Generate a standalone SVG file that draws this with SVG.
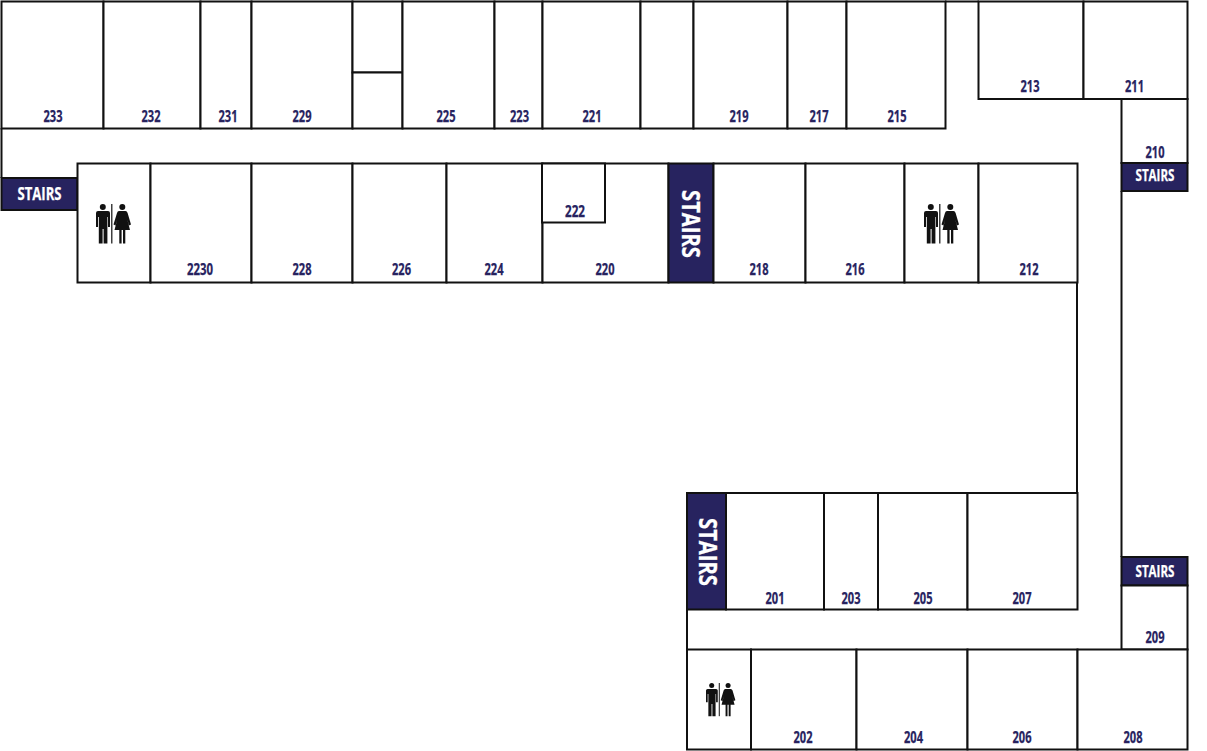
<svg xmlns="http://www.w3.org/2000/svg" width="1207" height="751" viewBox="0 0 1207 751">
<style>
.r{fill:#fff;stroke:#111;stroke-width:2}
.s{fill:#27235f;stroke:#111;stroke-width:2}
.w{fill:none;stroke:#111;stroke-width:2}
.l{font-family:"Open Sans","Liberation Sans",sans-serif;font-weight:700;font-size:16px;fill:#27235f;stroke:#27235f;stroke-width:.25;text-anchor:middle}
.t{font-family:"Open Sans","Liberation Sans",sans-serif;font-weight:700;fill:#fff;stroke:#fff;stroke-width:.25;text-anchor:middle}
</style>
<defs>
<g id="wc" fill="#111">
<circle cx="6.800" cy="3.100" r="3"/>
<path d="M2 7H12Q14 7 14 9V23H12V13H11.400V39.500H7.600V25H6.600V39.500H2.800V13H2V23H0V9Q0 7 2 7Z"/>
<rect x="15.200" y="0" width="1.200" height="39.500"/>
<circle cx="26.300" cy="3.100" r="3"/>
<path d="M23 7H29.500Q31 7 31.600 9L35 20.500L33 21.500L31.300 15.500L34 26H29.300V39.500H27V26H25.600V39.500H23.300V26H18.500L21.200 15.500L19.500 21.500L17.500 20.500L21 9Q21.500 7 23 7Z"/>
</g>
</defs>
<rect width="1207" height="751" fill="#fff"/>
<g id="connectors">
<path class="w" d="M1.500 128V178"/>
<path class="w" d="M945 1.500H979"/>
<path class="w" d="M1121.500 191V557"/>
<path class="w" d="M1077 282V493"/>
<path class="w" d="M687 609V649"/>
</g>
<g id="r233"><rect class="r" x="1.500" y="1.500" width="102" height="127"/><text class="l" x="53" y="122" textLength="19" lengthAdjust="spacingAndGlyphs">233</text></g>
<g id="r232"><rect class="r" x="103.500" y="1.500" width="97" height="127"/><text class="l" x="151" y="122" textLength="19" lengthAdjust="spacingAndGlyphs">232</text></g>
<g id="r231"><rect class="r" x="200.500" y="1.500" width="51" height="127"/><text class="l" x="228" y="122" textLength="19" lengthAdjust="spacingAndGlyphs">231</text></g>
<g id="r229"><rect class="r" x="251.500" y="1.500" width="101" height="127"/><text class="l" x="302" y="122" textLength="19" lengthAdjust="spacingAndGlyphs">229</text></g>
<g id="r-unnamed-a"><rect class="r" x="352.500" y="1.500" width="50" height="71"/></g>
<g id="r-unnamed-b"><rect class="r" x="352.500" y="72.500" width="50" height="56"/></g>
<g id="r225"><rect class="r" x="402.500" y="1.500" width="92" height="127"/><text class="l" x="446" y="122" textLength="19" lengthAdjust="spacingAndGlyphs">225</text></g>
<g id="r223"><rect class="r" x="494.500" y="1.500" width="48" height="127"/><text class="l" x="519.500" y="122" textLength="19" lengthAdjust="spacingAndGlyphs">223</text></g>
<g id="r221"><rect class="r" x="542.500" y="1.500" width="98" height="127"/><text class="l" x="592" y="122" textLength="19" lengthAdjust="spacingAndGlyphs">221</text></g>
<g id="r-unnamed-c"><rect class="r" x="640.500" y="1.500" width="53" height="127"/></g>
<g id="r219"><rect class="r" x="693.500" y="1.500" width="94" height="127"/><text class="l" x="739" y="122" textLength="19" lengthAdjust="spacingAndGlyphs">219</text></g>
<g id="r217"><rect class="r" x="787.500" y="1.500" width="59" height="127"/><text class="l" x="819" y="122" textLength="19" lengthAdjust="spacingAndGlyphs">217</text></g>
<g id="r215"><rect class="r" x="846.500" y="1.500" width="99" height="127"/><text class="l" x="897" y="122" textLength="19" lengthAdjust="spacingAndGlyphs">215</text></g>
<g id="r213"><rect class="r" x="978.500" y="1.500" width="105" height="97.500"/><text class="l" x="1030" y="92" textLength="19" lengthAdjust="spacingAndGlyphs">213</text></g>
<g id="r211"><rect class="r" x="1083.500" y="1.500" width="104" height="97.500"/><text class="l" x="1134.500" y="92" textLength="19" lengthAdjust="spacingAndGlyphs">211</text></g>
<g id="r210"><rect class="r" x="1121.500" y="99" width="66" height="64"/><text class="l" x="1155" y="158" textLength="19" lengthAdjust="spacingAndGlyphs">210</text></g>
<g id="stairs-ne"><rect class="s" x="1121.500" y="163" width="66" height="28"/><text class="t" x="1155" y="181" font-size="15.500" textLength="39" lengthAdjust="spacingAndGlyphs">STAIRS</text></g>
<g id="stairs-w"><rect class="s" x="1.500" y="178" width="76" height="32"/><text class="t" x="39.500" y="199.500" font-size="18" textLength="44" lengthAdjust="spacingAndGlyphs">STAIRS</text></g>
<g id="wc-north-w"><rect class="r" x="77.500" y="163.500" width="73" height="119"/><use href="#wc" x="96" y="204"/></g>
<g id="r2230"><rect class="r" x="150.500" y="163.500" width="101" height="119"/><text class="l" x="200" y="275" textLength="26" lengthAdjust="spacingAndGlyphs">2230</text></g>
<g id="r228"><rect class="r" x="251.500" y="163.500" width="101" height="119"/><text class="l" x="302" y="275" textLength="19" lengthAdjust="spacingAndGlyphs">228</text></g>
<g id="r226"><rect class="r" x="352.500" y="163.500" width="94" height="119"/><text class="l" x="401.500" y="275" textLength="19" lengthAdjust="spacingAndGlyphs">226</text></g>
<g id="r224"><rect class="r" x="446.500" y="163.500" width="96" height="119"/><text class="l" x="494" y="275" textLength="19" lengthAdjust="spacingAndGlyphs">224</text></g>
<g id="r220"><rect class="r" x="542.500" y="163.500" width="126" height="119"/><text class="l" x="605" y="275" textLength="19" lengthAdjust="spacingAndGlyphs">220</text></g>
<g id="r222"><rect class="r" x="542" y="163.500" width="63" height="59"/><text class="l" x="575" y="217" textLength="20" lengthAdjust="spacingAndGlyphs">222</text></g>
<g id="stairs-n"><rect class="s" x="668.500" y="163.500" width="45" height="119"/><text class="t" transform="translate(682,224) rotate(90)" font-size="25" textLength="68" lengthAdjust="spacingAndGlyphs">STAIRS</text></g>
<g id="r218"><rect class="r" x="713.500" y="163.500" width="92" height="119"/><text class="l" x="759" y="275" textLength="19" lengthAdjust="spacingAndGlyphs">218</text></g>
<g id="r216"><rect class="r" x="805.500" y="163.500" width="99" height="119"/><text class="l" x="855" y="275" textLength="19" lengthAdjust="spacingAndGlyphs">216</text></g>
<g id="wc-north-e"><rect class="r" x="904.500" y="163.500" width="74" height="119"/><use href="#wc" x="924" y="204"/></g>
<g id="r212"><rect class="r" x="978.500" y="163.500" width="99" height="119"/><text class="l" x="1029" y="275" textLength="19" lengthAdjust="spacingAndGlyphs">212</text></g>
<g id="stairs-s"><rect class="s" x="687" y="493" width="39" height="116.500"/><text class="t" transform="translate(699,552) rotate(90)" font-size="25" textLength="68" lengthAdjust="spacingAndGlyphs">STAIRS</text></g>
<g id="r201"><rect class="r" x="726" y="493" width="98" height="116.500"/><text class="l" x="775" y="604" textLength="19" lengthAdjust="spacingAndGlyphs">201</text></g>
<g id="r203"><rect class="r" x="824" y="493" width="54" height="116.500"/><text class="l" x="851" y="604" textLength="19" lengthAdjust="spacingAndGlyphs">203</text></g>
<g id="r205"><rect class="r" x="878" y="493" width="89.500" height="116.500"/><text class="l" x="923" y="604" textLength="19" lengthAdjust="spacingAndGlyphs">205</text></g>
<g id="r207"><rect class="r" x="967.500" y="493" width="110" height="116.500"/><text class="l" x="1022" y="604" textLength="19" lengthAdjust="spacingAndGlyphs">207</text></g>
<g id="stairs-se"><rect class="s" x="1121.500" y="557" width="66" height="28.500"/><text class="t" x="1155" y="576.500" font-size="15.500" textLength="39" lengthAdjust="spacingAndGlyphs">STAIRS</text></g>
<g id="r209"><rect class="r" x="1121.500" y="585.500" width="66" height="64"/><text class="l" x="1155" y="643" textLength="19" lengthAdjust="spacingAndGlyphs">209</text></g>
<g id="wc-south"><rect class="r" x="687" y="649.500" width="64" height="100"/><use href="#wc" transform="translate(706,683) scale(.84)"/></g>
<g id="r202"><rect class="r" x="751" y="649.500" width="105.500" height="100"/><text class="l" x="803" y="743" textLength="19" lengthAdjust="spacingAndGlyphs">202</text></g>
<g id="r204"><rect class="r" x="856.500" y="649.500" width="111" height="100"/><text class="l" x="913.500" y="743" textLength="19" lengthAdjust="spacingAndGlyphs">204</text></g>
<g id="r206"><rect class="r" x="967.500" y="649.500" width="110" height="100"/><text class="l" x="1022" y="743" textLength="19" lengthAdjust="spacingAndGlyphs">206</text></g>
<g id="r208"><rect class="r" x="1077.500" y="649.500" width="110" height="100"/><text class="l" x="1133" y="743" textLength="19" lengthAdjust="spacingAndGlyphs">208</text></g>
</svg>
